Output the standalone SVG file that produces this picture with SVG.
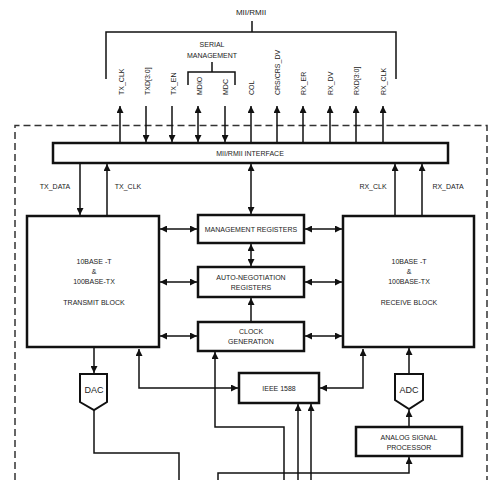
<svg xmlns="http://www.w3.org/2000/svg" width="500" height="480" viewBox="0 0 500 480">
<style>
text{font-family:"Liberation Sans",Arial,sans-serif;font-size:7px;fill:#222}
.c{text-anchor:middle}
.box{fill:#fff;stroke:#111;stroke-width:2.5}
.ln{fill:none;stroke:#111;stroke-width:1.5}
.ae{marker-end:url(#ah)}
.ab{marker-start:url(#ah);marker-end:url(#ah)}
.as{marker-start:url(#ah)}
.v{text-anchor:start}
</style>
<defs>
<marker id="ah" viewBox="0 0 8 8" refX="8" refY="4" markerWidth="7" markerHeight="7" orient="auto-start-reverse" markerUnits="userSpaceOnUse"><path d="M0,0 L8,4 L0,8 z" fill="#111"/></marker>
</defs>
<rect width="500" height="480" fill="#fff"/>

<!-- top bracket labels -->
<g id="bus-label">
<text class="c" x="251" y="15" style="font-size:8px">MII/RMII</text>
<path class="ln" d="M252,21 V32 M106,79 V32 H396 V79"/>
</g>
<g id="serial-mgmt">
<text class="c" x="212" y="47">SERIAL</text>
<text class="c" x="212" y="58">MANAGEMENT</text>
<path class="ln" d="M212,62 V72 M188,85 V72 H235 V85"/>
</g>

<!-- signal labels -->
<g id="signal-labels">
<text class="v" transform="translate(123.5,95) rotate(-90)">TX_CLK</text>
<text class="v" transform="translate(149.5,95) rotate(-90)">TXD[3:0]</text>
<text class="v" transform="translate(175.5,95) rotate(-90)">TX_EN</text>
<text class="v" transform="translate(201.5,95) rotate(-90)">MDIO</text>
<text class="v" transform="translate(228,95) rotate(-90)">MDC</text>
<text class="v" transform="translate(254,95) rotate(-90)">COL</text>
<text class="v" transform="translate(280,95) rotate(-90)">CRS/CRS_DV</text>
<text class="v" transform="translate(306,95) rotate(-90)">RX_ER</text>
<text class="v" transform="translate(333,95) rotate(-90)">RX_DV</text>
<text class="v" transform="translate(359,95) rotate(-90)">RXD[3:0]</text>
<text class="v" transform="translate(386,95) rotate(-90)">RX_CLK</text>
</g>

<!-- dashed chip boundary -->
<path d="M15,480 V125.5 H487 V480" fill="none" stroke="#333" stroke-width="1.5" stroke-dasharray="7 4"/>

<g id="connectors">
<path class="ln ae" d="M120,142 V106"/>
<path class="ln ae" d="M146,106 V142"/>
<path class="ln ae" d="M172,106 V142"/>
<path class="ln ab" d="M198,106 V142"/>
<path class="ln ae" d="M225,106 V142"/>
<path class="ln ae" d="M251,142 V106"/>
<path class="ln ae" d="M277,142 V106"/>
<path class="ln ae" d="M303,142 V106"/>
<path class="ln ae" d="M330,142 V106"/>
<path class="ln ae" d="M356,142 V106"/>
<path class="ln ae" d="M383,142 V106"/>

<path class="ln ae" d="M80,164 V215"/>
<path class="ln ae" d="M107,215 V164"/>
<path class="ln ae" d="M395,215 V164"/>
<path class="ln ae" d="M422,215 V164"/>

<path class="ln ab" d="M251,164 V214"/>
<path class="ln ab" d="M251,244 V266"/>
<path class="ln ae" d="M251,321 V298"/>

<path class="ln ab" d="M160,229 H197"/>
<path class="ln ab" d="M160,282 H197"/>
<path class="ln ab" d="M160,336 H197"/>
<path class="ln ab" d="M305,229 H342"/>
<path class="ln ab" d="M305,282 H342"/>
<path class="ln ab" d="M305,336 H342"/>

<path class="ln ae" d="M94,348 V373"/>
<path class="ln" d="M94,410 V453 H179 V480"/>
<path class="ln ab" d="M139,349 V388 H238"/>
<path class="ln ab" d="M363,349 V388 H320"/>
<path class="ln as" d="M215,352 V427 H284 V480"/>
<path class="ln ae" d="M298,480 V404"/>
<path class="ln ae" d="M311,480 V404"/>
<path class="ln ae" d="M218,480 V473 H409 V457"/>
<path class="ln ae" d="M409,427 V410"/>
<path class="ln ae" d="M409,374 V348"/>
</g>

<g id="connector-labels">
<text class="c" x="55" y="189">TX_DATA</text>
<text class="c" x="128" y="189">TX_CLK</text>
<text class="c" x="373" y="189">RX_CLK</text>
<text class="c" x="448" y="189">RX_DATA</text>
</g>

<g id="mii-interface">
<rect class="box" x="53" y="143" width="395" height="20"/>
<text class="c" x="250" y="156">MII/RMII INTERFACE</text>
</g>

<g id="transmit-block">
<rect class="box" x="27" y="216" width="132" height="131"/>
<text class="c" x="94" y="264">10BASE -T</text>
<text class="c" x="94" y="274">&amp;</text>
<text class="c" x="94" y="284">100BASE-TX</text>
<text class="c" x="94" y="305">TRANSMIT BLOCK</text>
</g>

<g id="receive-block">
<rect class="box" x="343" y="216" width="131" height="131"/>
<text class="c" x="409" y="264">10BASE -T</text>
<text class="c" x="409" y="274">&amp;</text>
<text class="c" x="409" y="284">100BASE-TX</text>
<text class="c" x="409" y="305">RECEIVE BLOCK</text>
</g>

<g id="management-registers">
<rect class="box" x="198" y="215" width="106" height="28"/>
<text class="c" x="251" y="232">MANAGEMENT REGISTERS</text>
</g>

<g id="auto-negotiation">
<rect class="box" x="198" y="267" width="106" height="30"/>
<text class="c" x="251" y="280">AUTO-NEGOTIATION</text>
<text class="c" x="251" y="290">REGISTERS</text>
</g>

<g id="clock-generation">
<rect class="box" x="198" y="322" width="106" height="29"/>
<text class="c" x="251" y="334">CLOCK</text>
<text class="c" x="251" y="344">GENERATION</text>
</g>

<g id="ieee-1588">
<rect class="box" x="239" y="373" width="80" height="30"/>
<text class="c" x="279" y="391">IEEE 1588</text>
</g>

<g id="dac">
<polygon points="80,374 107,374 107,402 94,410 80,402" fill="#fff" stroke="#111" stroke-width="2"/>
<text class="c" x="94" y="393" style="font-size:9px">DAC</text>
</g>

<g id="adc">
<polygon points="395,374 423,374 423,400 409,409 395,400" fill="#fff" stroke="#111" stroke-width="2"/>
<text class="c" x="409" y="393" style="font-size:9px">ADC</text>
</g>

<g id="analog-signal-processor">
<rect class="box" x="356" y="427" width="106" height="29"/>
<text class="c" x="409" y="440">ANALOG SIGNAL</text>
<text class="c" x="409" y="450">PROCESSOR</text>
</g>
</svg>
